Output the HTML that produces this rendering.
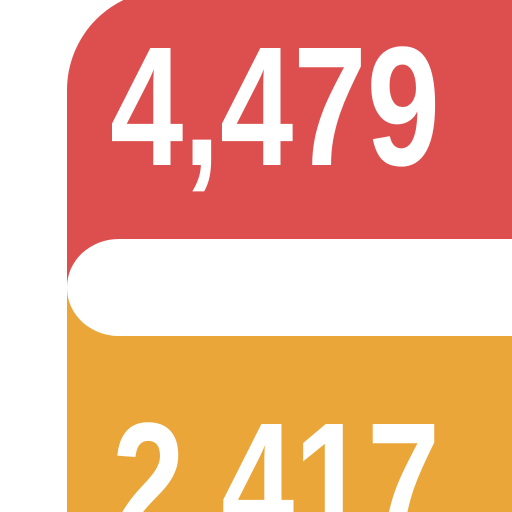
<!DOCTYPE html>
<html><head><meta charset="utf-8"><style>
html,body{margin:0;padding:0;background:#fff;width:512px;height:512px;overflow:hidden}
</style></head><body>
<svg width="512" height="512" viewBox="0 0 512 512">
  <defs><clipPath id="frame"><rect x="0" y="0" width="512" height="512"/></clipPath></defs>
  <g clip-path="url(#frame)">
  <path d="M67,300 L67,90 A100,100 0 0 1 167,-10 L520,-10 L520,300 Z" fill="#DD4F4F"/>
  <rect x="67" y="290" width="445" height="222" fill="#EBA63A"/>
  <rect x="67" y="239" width="500" height="97" rx="52" ry="48" fill="#fff"/>
  <text x="110" y="165" textLength="330" lengthAdjust="spacingAndGlyphs" font-family="'Liberation Sans Narrow','Liberation Sans',sans-serif" font-weight="bold" font-size="170" fill="#fff">4,479</text>
  <text x="112" y="541" textLength="328" lengthAdjust="spacingAndGlyphs" font-family="'Liberation Sans Narrow','Liberation Sans',sans-serif" font-weight="bold" font-size="170" fill="#fff">2,417</text>
  </g>
</svg>
</body></html>
